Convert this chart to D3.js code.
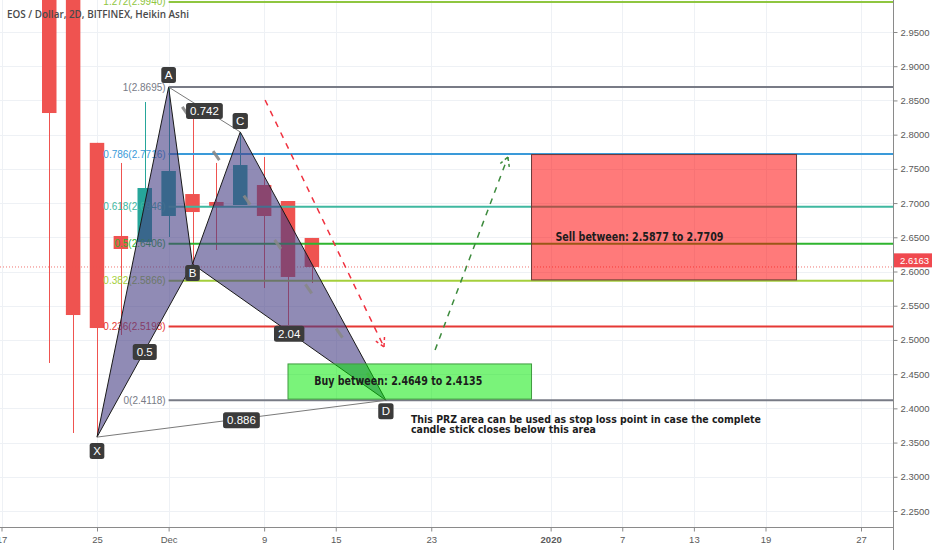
<!DOCTYPE html>
<html>
<head>
<meta charset="utf-8">
<script src="https://cdn.jsdelivr.net/npm/d3@7"></script>
<style>
  body { margin: 0; background: #fff; }
  svg { display: block; }
</style>
</head>
<body>
<svg id="chart" width="932" height="550"></svg>
<script>
// 2D bars on the time axis (tradingview restarts the 2 day grid on jan 1)
const barDates = [
  "2019-11-17", "2019-11-19", "2019-11-21", "2019-11-23", "2019-11-25", "2019-11-27", "2019-11-29",
  "2019-12-01", "2019-12-03", "2019-12-05", "2019-12-07", "2019-12-09", "2019-12-11", "2019-12-13",
  "2019-12-15", "2019-12-17", "2019-12-19", "2019-12-21", "2019-12-23", "2019-12-25", "2019-12-27",
  "2019-12-29", "2019-12-31", "2020-01-01", "2020-01-03", "2020-01-05", "2020-01-07", "2020-01-09",
  "2020-01-11", "2020-01-13", "2020-01-15", "2020-01-17", "2020-01-19", "2020-01-21", "2020-01-23",
  "2020-01-25", "2020-01-27", "2020-01-29"
];
const xTickDates = ["2019-11-17", "2019-11-25", "2019-12-01", "2019-12-09", "2019-12-15", "2019-12-23",
  "2020-01-01", "2020-01-07", "2020-01-13", "2020-01-19", "2020-01-27"];
const xTickText = ["17", "25", "Dec", "9", "15", "23", "2020", "7", "13", "19", "27"];
const yTicks = [2.25, 2.30, 2.35, 2.40, 2.45, 2.50, 2.55, 2.60, 2.65, 2.70, 2.75, 2.80, 2.85, 2.90, 2.95];

// heikin ashi candles
const candleDates = ["2019-11-21", "2019-11-23", "2019-11-25", "2019-11-27", "2019-11-29", "2019-12-01",
  "2019-12-03", "2019-12-05", "2019-12-07", "2019-12-09", "2019-12-11", "2019-12-13"];
const candleOpen  = [3.2500, 3.0400, 2.7880, 2.6519, 2.6431, 2.6811, 2.7132, 2.7016, 2.6972, 2.7264, 2.7030, 2.6490];
const candleHigh  = [3.3000, 3.0600, 2.7880, 2.7586, 2.8477, 2.8695, 2.8243, 2.7586, 2.8039, 2.7673, 2.7030, 2.6490];
const candleLow   = [2.4663, 2.3640, 2.3580, 2.5072, 2.6431, 2.6504, 2.6110, 2.6314, 2.6972, 2.5759, 2.5218, 2.5832];
const candleClose = [2.8316, 2.5364, 2.5174, 2.6329, 2.7220, 2.7469, 2.6869, 2.6958, 2.7556, 2.6811, 2.5920, 2.6066];
const lastPrice = 2.6163;

// fib retracement levels
const fibRatio = ["0", "0.236", "0.382", "0.5", "0.618", "0.786", "1", "1.272"];
const fibPrice = [2.4118, 2.5198, 2.5866, 2.6406, 2.6946, 2.7716, 2.8695, 2.9940];
const fibColor = ["#787b86", "#e53935", "#a5cf3c", "#2fb52f", "#3fb8a0", "#3a9ad9", "#787b86", "#8fc640"];
const fibStartBar = 7;

// xabcd pattern
const patternName = ["X", "A", "B", "C", "D"];
const patternBar = [4, 7, 8, 10, 16.1];
const patternPrice = [2.358, 2.8695, 2.611, 2.8039, 2.4118];
const ratioText = ["0.5", "0.742", "2.04", "0.886"];
const ratioFrom = ["X", "A", "B", "X"];
const ratioTo = ["B", "C", "D", "D"];

// arrows [bar, price]
const redArrow = [[11.04, 2.8506], [16.02, 2.4897]];
const greenArrow = [[18.16, 2.4853], [21.21, 2.7673]];

// zones
const buyZone = { bars: [12, 22.2], prices: [2.4649, 2.4135], text: "Buy between: 2.4649 to 2.4135", at: [13.1, 2.440] };
const sellZone = { bars: [22.2, 33.3], prices: [2.7709, 2.5877], text: "Sell between: 2.5877 to 2.7709", at: [23.2, 2.6504] };
const noteLines = ["This PRZ area can be used as stop loss point in case the complete",
  "candle stick closes below this area"];
const noteWidth = [350, 185];
const notePos = [17.15, 2.384];

const W = 932, H = 550;
const plotRight = 893, plotBottom = 527;

const svg = d3.select("#chart");

const x = d3.scaleLinear().domain([0, barDates.length - 1]).range([1.5, 1.5 + 23.875 * (barDates.length - 1)]);
const y = d3.scaleLinear().domain([2.25, 2.95]).range([511, 32]);
const barIndex = (d) => barDates.indexOf(d);

svg.append("defs").append("clipPath").attr("id", "plotClip")
  .append("rect").attr("x", 0).attr("y", 0).attr("width", plotRight).attr("height", plotBottom);

const plot = svg.append("g").attr("clip-path", "url(#plotClip)");

// grid
plot.append("g").selectAll("line").data(yTicks).join("line")
  .attr("x1", 0).attr("x2", plotRight)
  .attr("y1", (d) => Math.round(y(d)) + 0.5).attr("y2", (d) => Math.round(y(d)) + 0.5)
  .attr("stroke", "#eef1f5");
plot.append("g").selectAll("line").data(xTickDates).join("line")
  .attr("x1", (d) => Math.round(x(barIndex(d))) + 0.5).attr("x2", (d) => Math.round(x(barIndex(d))) + 0.5)
  .attr("y1", 0).attr("y2", plotBottom)
  .attr("stroke", "#eef1f5");

// candles
const candles = candleDates.map((d, i) => ({
  i: barIndex(d), o: candleOpen[i], h: candleHigh[i], l: candleLow[i], c: candleClose[i]
}));
const bodyW = 14.5;
const candleG = plot.append("g");
candleG.selectAll("line").data(candles).join("line")
  .attr("x1", (d) => Math.round(x(d.i)) + 0.5).attr("x2", (d) => Math.round(x(d.i)) + 0.5)
  .attr("y1", (d) => y(d.h)).attr("y2", (d) => y(d.l))
  .attr("stroke", (d) => (d.c >= d.o ? "#26a69a" : "#ef5350"))
  .attr("stroke-width", 1);
candleG.selectAll("rect").data(candles).join("rect")
  .attr("x", (d) => x(d.i) - bodyW / 2)
  .attr("width", bodyW)
  .attr("y", (d) => y(Math.max(d.o, d.c)))
  .attr("height", (d) => Math.max(1, Math.abs(y(d.o) - y(d.c))))
  .attr("fill", (d) => (d.c >= d.o ? "#26a69a" : "#ef5350"));

// fib levels
const fib = fibRatio.map((r, i) => ({ r: r, p: fibPrice[i], col: fibColor[i] }));
plot.append("g").selectAll("line").data(fib).join("line")
  .attr("x1", x(fibStartBar)).attr("x2", plotRight)
  .attr("y1", (d) => y(d.p)).attr("y2", (d) => y(d.p))
  .attr("stroke", (d) => d.col).attr("stroke-width", 2);
plot.append("g").selectAll("text").data(fib).join("text")
  .attr("x", x(fibStartBar) - 3)
  .attr("y", (d) => y(d.p))
  .attr("dy", "0.35em")
  .attr("text-anchor", "end")
  .attr("font-family", "Liberation Sans, Arial, sans-serif")
  .attr("font-size", 10)
  .attr("fill", (d) => d.col)
  .text((d) => `${d.r}(${d.p.toFixed(4)})`);

// last candle close (dotted)
plot.append("line")
  .attr("x1", 0).attr("x2", plotRight)
  .attr("y1", y(candleClose[candleClose.length - 1])).attr("y2", y(candleClose[candleClose.length - 1]))
  .attr("stroke", "#ef5350").attr("stroke-width", 1).attr("stroke-dasharray", "1,2").attr("opacity", 0.8);

// pattern
const pt = {};
patternName.forEach((n, i) => { pt[n] = [x(patternBar[i]), y(patternPrice[i])]; });
const triangles = [["X", "A", "B"], ["B", "C", "D"]];
plot.append("g").selectAll("path").data(triangles).join("path")
  .attr("d", (t) => d3.line()(t.map((n) => pt[n])) + "Z")
  .attr("fill", "rgba(70,62,132,0.6)")
  .attr("stroke", "#1a1a1a").attr("stroke-width", 1);

// thin ratio lines
plot.append("g").selectAll("line").data([["A", "C"], ["X", "D"]]).join("line")
  .attr("x1", (d) => pt[d[0]][0]).attr("y1", (d) => pt[d[0]][1])
  .attr("x2", (d) => pt[d[1]][0]).attr("y2", (d) => pt[d[1]][1])
  .attr("stroke", "#7a7a7a").attr("stroke-width", 1);

// thick dashed gray A -> D
plot.append("line")
  .attr("x1", pt.A[0]).attr("y1", pt.A[1]).attr("x2", pt.D[0]).attr("y2", pt.D[1])
  .attr("stroke", "rgba(135,135,135,0.9)").attr("stroke-width", 3)
  .attr("stroke-dasharray", "0,24,11,19");

// dashed arrows
function drawArrow(pts, color) {
  const p0 = [x(pts[0][0]), y(pts[0][1])];
  const p1 = [x(pts[1][0]), y(pts[1][1])];
  plot.append("line")
    .attr("x1", p0[0]).attr("y1", p0[1]).attr("x2", p1[0]).attr("y2", p1[1])
    .attr("stroke", color).attr("stroke-width", 1.5).attr("stroke-dasharray", "6,6");
  const ang = Math.atan2(p1[1] - p0[1], p1[0] - p0[0]);
  [-0.5, 0.5].forEach((a) => {
    plot.append("line")
      .attr("x1", p1[0]).attr("y1", p1[1])
      .attr("x2", p1[0] - 10 * Math.cos(ang + a)).attr("y2", p1[1] - 10 * Math.sin(ang + a))
      .attr("stroke", color).attr("stroke-width", 1.5).attr("stroke-dasharray", "4,3");
  });
}
drawArrow(redArrow, "#f0313f");
drawArrow(greenArrow, "#3d8b3d");

// zones
function drawZone(z, fill, stroke) {
  plot.append("rect")
    .attr("x", x(z.bars[0])).attr("y", y(z.prices[0]))
    .attr("width", x(z.bars[1]) - x(z.bars[0]))
    .attr("height", y(z.prices[1]) - y(z.prices[0]))
    .attr("fill", fill).attr("stroke", stroke).attr("stroke-width", 1);
  plot.append("text")
    .attr("x", x(z.at[0])).attr("y", y(z.at[1])).attr("dy", "0.35em")
    .attr("font-family", "DejaVu Sans, Verdana, sans-serif")
    .attr("font-weight", "bold").attr("font-size", 11.5)
    .attr("fill", "#1c1c1c")
    .attr("textLength", 168).attr("lengthAdjust", "spacingAndGlyphs")
    .text(z.text);
}
drawZone(sellZone, "rgba(255,0,0,0.52)", "#6b3a3a");
drawZone(buyZone, "rgba(0,232,0,0.52)", "#3f9a3f");

// note under the buy zone
noteLines.forEach((line, i) => {
  plot.append("text")
    .attr("x", x(notePos[0])).attr("y", y(notePos[1]) + i * 10.5).attr("dy", "0.35em")
    .attr("font-family", "DejaVu Sans, Verdana, sans-serif")
    .attr("font-weight", "bold").attr("font-size", 10)
    .attr("fill", "#1c1c1c")
    .attr("textLength", noteWidth[i]).attr("lengthAdjust", "spacingAndGlyphs")
    .text(line);
});

// label boxes
function tag(cx, cy, label, padX) {
  const g = plot.append("g");
  const t = g.append("text")
    .attr("x", cx).attr("y", cy).attr("dy", "0.36em")
    .attr("text-anchor", "middle")
    .attr("font-family", "Liberation Sans, Arial, sans-serif")
    .attr("font-size", 11.5).attr("fill", "#fff")
    .text(label);
  const w = t.node().getComputedTextLength() + padX * 2;
  g.insert("rect", "text")
    .attr("x", cx - w / 2).attr("y", cy - 8).attr("width", w).attr("height", 16)
    .attr("rx", 2.5).attr("fill", "#3b3b3b");
}

// pattern point tags
const tagOffset = { X: 14, A: -12, B: 9, C: -11, D: 11 };
patternName.forEach((n) => tag(pt[n][0], pt[n][1] + tagOffset[n], n, 3.5));

// ratio tags on midpoints
ratioText.forEach((r, i) => {
  const a = pt[ratioFrom[i]], b = pt[ratioTo[i]];
  tag((a[0] + b[0]) / 2, (a[1] + b[1]) / 2 + 1.5, r, 4);
});

// title
svg.append("text")
  .attr("x", 7).attr("y", 14).attr("dy", "0.35em")
  .attr("font-family", "Open Sans, Liberation Sans, sans-serif")
  .attr("font-weight", 600).attr("font-size", 10.5)
  .attr("fill", "#4a4a4a")
  .attr("textLength", 182).attr("lengthAdjust", "spacingAndGlyphs")
  .text("EOS / Dollar, 2D, BITFINEX, Heikin Ashi");

// right axis
const yAxis = svg.append("g")
  .attr("transform", `translate(${plotRight + 0.5},0)`)
  .call(d3.axisRight(y).tickValues(yTicks).tickFormat(d3.format(".4f")).tickSize(4).tickSizeOuter(0));
yAxis.select(".domain").attr("d", `M0,0V${H}`).attr("stroke", "#8a8a8a");
yAxis.selectAll(".tick line").attr("stroke", "#8a8a8a");
yAxis.selectAll("text").attr("font-family", "Liberation Sans, Arial, sans-serif")
  .attr("font-size", 9.5).attr("fill", "#5a5a5a").attr("x", 7);

// bottom axis
const xAxis = svg.append("g")
  .attr("transform", `translate(0,${plotBottom + 0.5})`)
  .call(d3.axisBottom(x).tickValues(xTickDates.map(barIndex))
    .tickFormat((d, i) => xTickText[i]).tickSize(4).tickSizeOuter(0));
xAxis.select(".domain").attr("d", `M0,0H${plotRight}`).attr("stroke", "#8a8a8a");
xAxis.selectAll(".tick line").attr("stroke", "#8a8a8a");
xAxis.selectAll("text").attr("font-family", "Liberation Sans, Arial, sans-serif")
  .attr("font-size", 9.5).attr("fill", "#5a5a5a").attr("y", 9)
  .attr("font-weight", (d, i) => (xTickText[i] === "2020" ? "bold" : "normal"));

// last price tag
const priceG = svg.append("g");
priceG.append("rect")
  .attr("x", plotRight + 1).attr("y", y(lastPrice) - 7).attr("width", W - plotRight).attr("height", 14)
  .attr("fill", "#f0494f");
priceG.append("text")
  .attr("x", plotRight + 7).attr("y", y(lastPrice)).attr("dy", "0.35em")
  .attr("font-family", "Liberation Sans, Arial, sans-serif")
  .attr("font-size", 9.5).attr("fill", "#fff")
  .text(lastPrice.toFixed(4));
</script>
</body>
</html>
